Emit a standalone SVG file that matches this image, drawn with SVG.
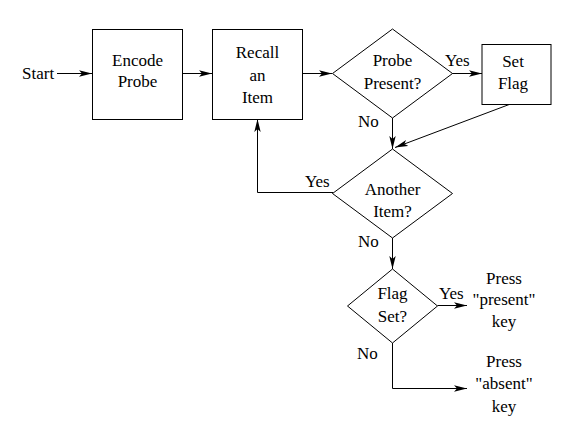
<svg xmlns="http://www.w3.org/2000/svg" width="582" height="438" viewBox="0 0 582 438">
<defs>
<marker id="ah" markerUnits="userSpaceOnUse" markerWidth="15" markerHeight="9" refX="13" refY="4" orient="auto">
<path d="M0,0.8 L13,4 L0,7.2 L3,4 Z" fill="#000"/>
</marker>
</defs>
<style>
.s{fill:#fff;stroke:#000;stroke-width:1}
.c{fill:none;stroke:#000;stroke-width:1;marker-end:url(#ah)}
.t{font-family:'Liberation Serif','DejaVu Serif',serif;font-size:17px;fill:#000}
.m{text-anchor:middle}
</style>
<rect width="582" height="438" fill="#fff"/>
<g id="connectors">
<line class="c" x1="57" y1="73.5" x2="92" y2="73.5"/>
<line class="c" x1="182" y1="73.5" x2="212" y2="73.5"/>
<line class="c" x1="302" y1="73.5" x2="332" y2="73.5"/>
<line class="c" x1="452" y1="73.5" x2="482" y2="73.5"/>
<line class="c" x1="392.5" y1="118" x2="392.5" y2="149"/>
<line class="c" x1="510.5" y1="104" x2="395" y2="147.5"/>
<polyline class="c" points="333,192.5 257.5,192.5 257.5,119"/>
<line class="c" x1="392.5" y1="238" x2="392.5" y2="269"/>
<line class="c" x1="437.5" y1="305.5" x2="467" y2="305.5"/>
<polyline class="c" points="392.5,343 392.5,388.5 467,388.5"/>
<text class="t" x="22" y="79">Start</text>
<text class="t" x="445" y="66">Yes</text>
<text class="t" x="358" y="127">No</text>
<text class="t" x="305" y="187">Yes</text>
<text class="t" x="358" y="247">No</text>
<text class="t" x="439" y="299">Yes</text>
<text class="t" x="357" y="359">No</text>
</g>
<g id="encode">
<rect class="s" x="92.5" y="29.5" width="90" height="90"/>
<text class="t m" x="137.5" y="66">Encode</text>
<text class="t m" x="137.5" y="87">Probe</text>
</g>
<g id="recall">
<rect class="s" x="212.5" y="29.5" width="90" height="90"/>
<text class="t m" x="257.5" y="58">Recall</text>
<text class="t m" x="257.5" y="81">an</text>
<text class="t m" x="257.5" y="103">Item</text>
</g>
<g id="probe">
<polygon class="s" points="392.5,29 452.5,73.5 392.5,118 332.5,73.5"/>
<text class="t m" x="392.5" y="66">Probe</text>
<text class="t m" x="392.5" y="89">Present?</text>
</g>
<g id="setflag">
<rect class="s" x="482" y="44.5" width="69" height="60"/>
<text class="t m" x="513" y="67">Set</text>
<text class="t m" x="513" y="89">Flag</text>
</g>
<g id="another">
<polygon class="s" points="392.5,149 452.5,193.5 392.5,238 332.5,193.5"/>
<text class="t m" x="392.5" y="195">Another</text>
<text class="t m" x="392.5" y="217">Item?</text>
</g>
<g id="flagset">
<polygon class="s" points="392.5,269 437.5,306 392.5,343 347.5,306"/>
<text class="t m" x="392.5" y="299">Flag</text>
<text class="t m" x="392.5" y="322">Set?</text>
</g>
<g id="present">
<text class="t m" x="504" y="284">Press</text>
<text class="t m" x="504" y="305">"present"</text>
<text class="t m" x="504" y="327">key</text>
</g>
<g id="absent">
<text class="t m" x="504" y="367">Press</text>
<text class="t m" x="504" y="389">"absent"</text>
<text class="t m" x="504" y="412">key</text>
</g>
</svg>
